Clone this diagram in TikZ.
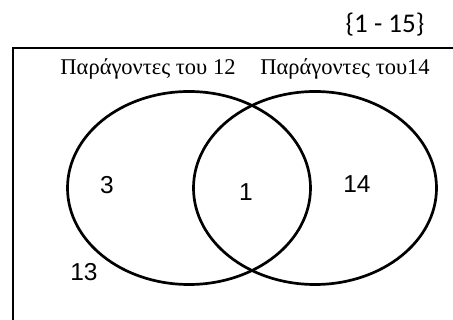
\documentclass[tikz,border=0pt]{standalone}
\usepackage{fontspec}
\newfontfamily\greekfont{Liberation Serif}
\newfontfamily\numfont{Liberation Sans}
\newfontfamily\rangefont{Carlito}

\begin{document}
\begin{tikzpicture}[
  x=1pt, y=-1pt,
  setline/.style={line width=2.7pt, black},
  framepart/.style={line width=2.9pt, black, line cap=rect},
  heading/.style={anchor=base, inner sep=0pt, font=\greekfont\fontsize{22.5}{27}\selectfont},
  member/.style={inner sep=0pt, font=\numfont\fontsize{24.5}{28}\selectfont},
]

% ---------- layout ----------
\def\W{453}
\def\H{320}
\def\cy{188}     % common centre height of both sets
\def\rx{121.5}
\def\ry{96.5}

\useasboundingbox (0,0) rectangle (\W,\H);

% ---------- universal set ----------
\node[inner sep=0pt, font=\rangefont\fontsize{27}{31}\selectfont] (range) at (385,25) {\{1 - 15\}};
\coordinate (frameR) at (\W,48);
\coordinate (frameC) at (13,48);
\coordinate (frameB) at (13,\H);
\draw[framepart] (frameR) -- (frameC) -- (frameB);

% ---------- the two sets ----------
\draw[setline] (189,\cy) ellipse [x radius=\rx, y radius=\ry];
\draw[setline] (315,\cy) ellipse [x radius=\rx, y radius=\ry];

\node[heading] (head12) at (148,75) {Παράγοντες του 12};
\node[heading] (head14) at (345,75) {Παράγοντες του14};

% ---------- members ----------
\node[member] (only12) at (107,185) {3};
\node[member] (both)   at (246,192) {1};
\node[member] (only14) at (357,184) {14};
\node[member] (outside) at (84,272) {13};

\end{tikzpicture}
\end{document}
